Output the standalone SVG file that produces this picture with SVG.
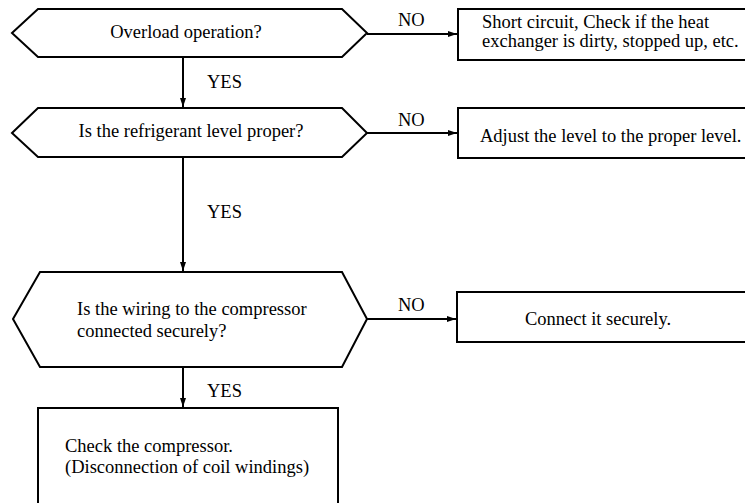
<svg xmlns="http://www.w3.org/2000/svg" width="745" height="503" viewBox="0 0 745 503">
<style>
.shape{fill:#fff;stroke:#000;stroke-width:2}
.t{font-family:"Liberation Serif","Times New Roman",serif;font-size:18.5px;fill:#000}
.m{text-anchor:middle}
.c{stroke:#000;stroke-width:2;fill:none}
</style>
<defs>
<marker id="ah" markerWidth="10" markerHeight="8" refX="9" refY="4" orient="auto" markerUnits="userSpaceOnUse">
<path d="M0,1 L9,4 L0,7 Z" fill="#000"/>
</marker>
</defs>
<rect width="745" height="503" fill="#fff"/>
<g id="connectors">
<line class="c" x1="183" y1="57" x2="183" y2="107" marker-end="url(#ah)"/>
<line class="c" x1="183" y1="157" x2="183" y2="271" marker-end="url(#ah)"/>
<line class="c" x1="183" y1="367" x2="183" y2="407" marker-end="url(#ah)"/>
<line class="c" x1="367" y1="34" x2="457" y2="34" marker-end="url(#ah)"/>
<line class="c" x1="367" y1="133" x2="457" y2="133" marker-end="url(#ah)"/>
<line class="c" x1="367" y1="319" x2="456" y2="319" marker-end="url(#ah)"/>
<text class="t" x="207" y="88">YES</text>
<text class="t" x="207" y="218">YES</text>
<text class="t" x="207" y="397">YES</text>
<text class="t" x="398" y="26">NO</text>
<text class="t" x="398" y="126">NO</text>
<text class="t" x="398" y="311">NO</text>
</g>
<g id="q1">
<polygon class="shape" points="12,33 38,9 342,9 367,33 342,57 38,57"/>
<text class="t m" x="186" y="38">Overload operation?</text>
</g>
<g id="q2">
<polygon class="shape" points="12,133 38,108 342,108 367,133 342,157 38,157"/>
<text class="t m" x="191" y="137">Is the refrigerant level proper?</text>
</g>
<g id="q3">
<polygon class="shape" points="13,319 40,272 342,272 367,319 342,367 40,367"/>
<text class="t" x="77" y="315">Is the wiring to the compressor</text>
<text class="t" x="77" y="337">connected securely?</text>
</g>
<g id="a1">
<rect class="shape" x="458" y="9" width="300" height="51"/>
<text class="t" x="482" y="28">Short circuit, Check if the heat</text>
<text class="t" x="482" y="47">exchanger is dirty, stopped up, etc.</text>
</g>
<g id="a2">
<rect class="shape" x="458" y="108" width="300" height="50"/>
<text class="t" x="480" y="142">Adjust the level to the proper level.</text>
</g>
<g id="a3">
<rect class="shape" x="457" y="292" width="300" height="50"/>
<text class="t m" x="598" y="325">Connect it securely.</text>
</g>
<g id="a4">
<rect class="shape" x="38" y="408" width="300" height="110"/>
<text class="t" x="65" y="452">Check the compressor.</text>
<text class="t" x="65" y="473">(Disconnection of coil windings)</text>
</g>
</svg>
